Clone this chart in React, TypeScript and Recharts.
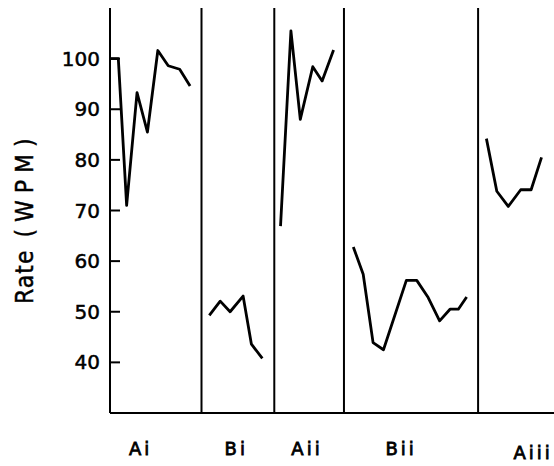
import React from 'react';
import { LineChart, Line, XAxis, YAxis, ReferenceLine, Label } from 'recharts';

// Session positions (x) and rates in words per minute (y) for each phase
const aiX = [0, 0.8, 1.6, 2.6, 3.6, 4.6, 5.6, 6.7, 7.7];
const aiY = [100, 100, 71, 93.3, 85.5, 101.6, 98.6, 97.9, 94.6];

const biX = [9.55, 10.6, 11.55, 12.8, 13.6, 14.65];
const biY = [49.3, 52.1, 50, 53.1, 43.6, 40.8];

const aiiX = [16.4, 17.4, 18.3, 19.5, 20.4, 21.5];
const aiiY = [66.9, 105.5, 88, 98.4, 95.6, 101.7];

const biiX = [23.4, 24.35, 25.3, 26.3, 28.5, 29.5, 30.6, 31.7, 32.7, 33.5, 34.3];
const biiY = [62.8, 57.4, 43.9, 42.5, 56.2, 56.2, 52.8, 48.2, 50.5, 50.5, 52.9];

const aiiiX = [36.2, 37.2, 38.3, 39.5, 40.5, 41.5];
const aiiiY = [84.2, 73.8, 70.8, 74.1, 74.1, 80.5];

// Phase change lines
const phaseBoundaries = [8.8, 15.8, 22.5, 35.4];

// Phase labels and their centre positions on the x axis
const phaseLabels = ['Ai', 'Bi', 'Aii', 'Bii', 'Aiii'];
const phaseLabelPositions = [2.85, 12.05, 18.85, 27.9, 40.6];

// Y ticks
const yTicks = [40, 50, 60, 70, 80, 90, 100];
const yDomain = [30, 110];
const xDomain = [0, 42.7];

const toRows = (xs: number[], ys: number[]) => xs.map((x, i) => ({ x, y: ys[i] }));

const series = [
  toRows(aiX, aiY),
  toRows(biX, biY),
  toRows(aiiX, aiiY),
  toRows(biiX, biiY),
  toRows(aiiiX, aiiiY),
];

const YTick = (props: any) => {
  const { x, y, payload } = props;
  return (
    <g>
      <line x1={x} x2={x + 10} y1={y} y2={y} stroke="#000" strokeWidth={2} />
      <text
        x={x - 10}
        y={y + 7}
        textAnchor="end"
        fontFamily="DejaVu Sans"
        fontSize={20}
        fill="#000"
        stroke="#000"
        strokeWidth={0.5}
      >
        {payload.value}
      </text>
    </g>
  );
};

const XTick = (props: any) => {
  const { x, y, payload } = props;
  const idx = phaseLabelPositions.indexOf(payload.value);
  const label = idx >= 0 ? phaseLabels[idx] : '';
  const extra = idx === phaseLabels.length - 1 ? 4 : 0;
  return (
    <text
      x={x + 1}
      y={y + 42 + extra}
      textAnchor="middle"
      fontFamily="DejaVu Sans"
      fontSize={18}
      letterSpacing={3}
      fill="#000"
      stroke="#000"
      strokeWidth={0.8}
    >
      {label}
    </text>
  );
};

const RateLabel = () => (
  <text
    transform="translate(33,304) scale(1.15,1) rotate(-90)"
    fontFamily="DejaVu Sans"
    fontSize={22}
    fill="#000"
    stroke="#000"
    strokeWidth={0.4}
  >
    <tspan letterSpacing={1}>Rate</tspan>
    <tspan dx={12} letterSpacing={7}>(WPM)</tspan>
  </text>
);

export default function App() {
  return (
    <div style={{ position: 'absolute', left: 0, top: 0, background: '#fff' }}>
      <LineChart
        width={554}
        height={466}
        margin={{ top: 8, right: 0, bottom: 0, left: 0 }}
      >
        <XAxis
          type="number"
          dataKey="x"
          domain={xDomain}
          ticks={phaseLabelPositions}
          interval={0}
          tick={<XTick />}
          tickLine={false}
          tickSize={0}
          tickMargin={0}
          axisLine={{ stroke: '#000', strokeWidth: 2 }}
          height={53}
          allowDataOverflow
        />
        <YAxis
          type="number"
          domain={yDomain}
          ticks={yTicks}
          interval={0}
          tick={<YTick />}
          tickLine={false}
          tickSize={0}
          tickMargin={0}
          axisLine={{ stroke: '#000', strokeWidth: 2 }}
          width={110}
          allowDataOverflow
        >
          <Label content={<RateLabel />} />
        </YAxis>
        {phaseBoundaries.map((b) => (
          <ReferenceLine key={b} x={b} stroke="#000" strokeWidth={2} />
        ))}
        {series.map((rows, i) => (
          <Line
            key={i}
            data={rows}
            dataKey="y"
            type="linear"
            stroke="#000"
            strokeWidth={2.8}
            strokeLinejoin="round"
            dot={false}
            activeDot={false}
            isAnimationActive={false}
          />
        ))}
      </LineChart>
    </div>
  );
}
